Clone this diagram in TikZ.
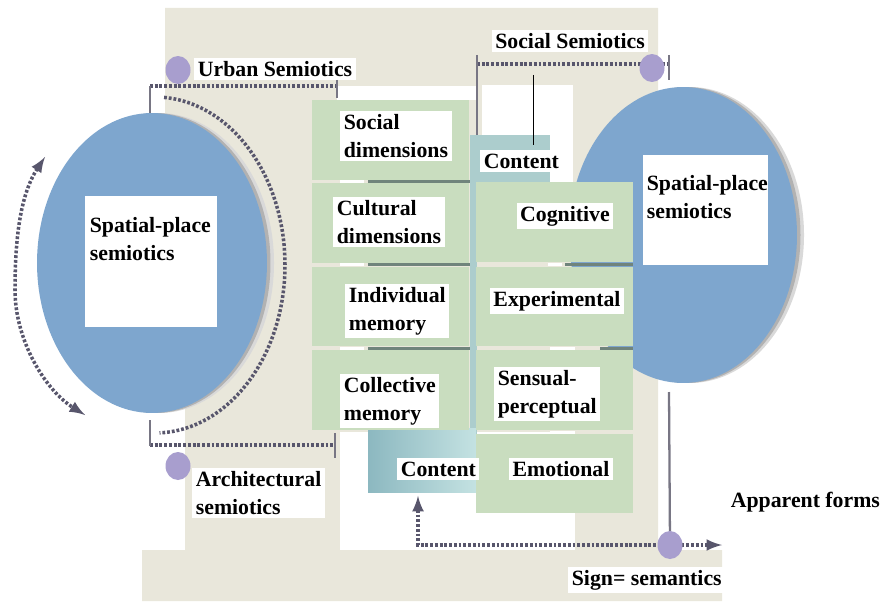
\documentclass[tikz,border=0pt]{standalone}
\usepackage{fontspec}
\setmainfont{Liberation Serif}
\usetikzlibrary{shapes.geometric,positioning}
\definecolor{beige}{RGB}{233,231,219}
\definecolor{ellblue}{RGB}{126,166,206}
\definecolor{cellgreen}{RGB}{201,221,191}
\definecolor{tealc}{RGB}{172,205,205}
\definecolor{tealdark}{RGB}{140,184,192}
\definecolor{teallight}{RGB}{196,226,226}
\definecolor{dotpurple}{RGB}{168,158,206}
\definecolor{dotgray}{RGB}{88,86,108}
\definecolor{tickgray}{RGB}{120,118,132}
\definecolor{sepgray}{RGB}{112,132,124}
\begin{document}
\begin{tikzpicture}[x=0.02cm,y=-0.02cm]
    \tikzset{
        lbl/.style={fill=white, font=\bfseries\fontsize{12.4}{16}\selectfont, align=left, inner sep=2pt},
        cell/.style={fill=cellgreen, minimum width=3.16cm, minimum height=1.6cm, inner sep=0pt},
        blob/.style={ellipse, fill=ellblue, inner sep=0pt,
            preaction={fill=black!15, transform canvas={xshift=4pt}},
            preaction={fill=black!30, transform canvas={xshift=2pt}}},
        dot/.style={ellipse, fill=dotpurple, minimum width=0.5cm, minimum height=0.56cm, inner sep=0pt},
        dline/.style={draw=dotgray, line width=2pt, dash pattern=on 1.6pt off 1.1pt},
        tick/.style={draw=tickgray, line width=1.3pt},
        sep/.style={draw=sepgray, line width=1.6pt}
        }
    \useasboundingbox (0,0) rectangle (881,601);

    %background panel
    \fill[beige] (165,8) -- (658,8) -- (658,550) -- (722,550) -- (722,601) -- (142,601)
        -- (142,550) -- (185,550) -- (185,300) -- (165,300) -- cycle;
    \fill[white] (337,86) rectangle (476,100);
    \fill[white] (482,85) rectangle (573,182);
    \fill[white] (340,432) rectangle (575,550);

    %ellipses
    \node (lell) [blob, minimum width=4.6cm, minimum height=6cm] at (152,263) {};
    \node (rell) [blob, minimum width=4.56cm, minimum height=5.92cm] at (683,235) {};
    \fill[white] (85,196) rectangle (217,327);
    \fill[white] (643,155) rectangle (768,265);

    %content boxes
    \fill[tealc] (470,135) rectangle (477,492);
    \node (ctopbox) [fill=tealc, minimum width=1.6cm, minimum height=1cm, inner sep=0pt] at (510,160) {};
    \node (cbotbox) [left color=tealdark, right color=teallight, minimum width=2.16cm, minimum height=1.28cm, inner sep=0pt] at (422,460) {};

    %dimension cells
    \node (sdcell) [cell] at (390.5,140) {};
    \node (cdcell) [cell] at (390.5,223) {};
    \node (imcell) [cell] at (390.5,306.5) {};
    \node (cmcell) [cell] at (390.5,390) {};
    \node (cogcell) [cell] at (554.5,222) {};
    \node (expcell) [cell] at (554.5,306.5) {};
    \node (sencell) [cell] at (554.5,390) {};
    \node (emocell) [cell] at (554.5,473.5) {};

    \draw[sep] (368,181.5) -- (470,181.5);
    \draw[sep] (368,264.5) -- (470,264.5);
    \draw[sep] (368,348.5) -- (470,348.5);
    \draw[sep] (565,264.5) -- (633,264.5);
    \draw[sep] (600,348.5) -- (633,348.5);
    \draw[white, line width=1.6pt] (340,181.5) -- (364,181.5);
    \draw[white, line width=1.6pt] (340,264.5) -- (364,264.5);
    \draw[white, line width=1.6pt] (340,348.5) -- (364,348.5);
    \draw[white, line width=1.6pt] (548,264.5) -- (562,264.5);
    \draw[white, line width=1.6pt] (550,348.5) -- (575,348.5);
    \draw[white, line width=1.6pt] (550,432) -- (575,432);

    %labels
    \node (lsp) [lbl, fill=none, anchor=west] at (86,239) {Spatial-place\\semiotics};
    \node (rsp) [lbl, fill=none, anchor=west] at (643,197) {Spatial-place\\semiotics};
    \node (usem) [lbl, anchor=west] at (194,69) {Urban Semiotics};
    \node (ssem) [lbl] at (570,41) {Social Semiotics};
    \node (asem) [lbl, anchor=west] at (192,493) {Architectural\\semiotics};
    \node (sd) [lbl, anchor=west] at (340,136) {Social\\dimensions};
    \node (cd) [lbl, anchor=west] at (333,222) {Cultural\\dimensions};
    \node (im) [lbl, anchor=west] at (345,311) {Individual\\memory};
    \node (cm) [lbl, anchor=west] at (340,401) {Collective\\memory};
    \node (ctop) [lbl, anchor=west] at (480,161) {Content};
    \node (cog) [lbl] at (565,216) {Cognitive};
    \node (expl) [lbl] at (557,301) {Experimental};
    \node (sens) [lbl, anchor=west] at (494,394) {Sensual-\\perceptual};
    \node (cbot) [lbl, anchor=west] at (397,469) {Content};
    \node (emo) [lbl] at (561,469) {Emotional};
    \node (appf) [lbl, anchor=west] at (727,502) {Apparent forms};
    \node (sign) [lbl, anchor=west] at (568,580) {Sign= semantics};

    %brackets
    \draw[dline] (150,86) -- (337,86);
    \draw[tick] (150,86) -- (150,113);
    \draw[tick] (337,80) -- (337,98);
    \draw[dline] (477,64) -- (668,64);
    \draw[tick] (477,55) -- (ctopbox.north west -| 477,0);
    \draw[tick] (669,55) -- (669,80);
    \draw[black, line width=0.5pt] (533,75) -- (533,145);
    \draw[dline] (150,445) -- (335,445);
    \draw[tick] (150,420) -- (150,446);
    \draw[tick] (335,433) -- (335,458);

    %arcs round the left ellipse
    \draw[dline] plot[domain=-86:88, samples=50, smooth] ({155+130*cos(\x)}, {265+168*sin(\x)});
    \draw[dline, latex-latex] (45,157) .. controls (20,195) and (15,240) .. (15,290)
        .. controls (15,340) and (45,390) .. (85,415);

    %signs
    \coordinate (rbot) at (669,392);
    \coordinate (sigpt) at (670,545);
    \coordinate (corner) at (418,545);
    \coordinate (af) at (722,545);
    \draw[tick] (rbot) -- (sigpt);
    \draw[dline, latex-latex, shorten <=2pt] (corner |- cbotbox.south) -- (corner) -- (af);
    \node (pc4) [dot] at (sigpt) {};
    \node (pc1) [dot] at (178,70) {};
    \node (pc2) [dot] at (652,68) {};
    \node (pc3) [dot] at (178,466) {};
\end{tikzpicture}
\end{document}
